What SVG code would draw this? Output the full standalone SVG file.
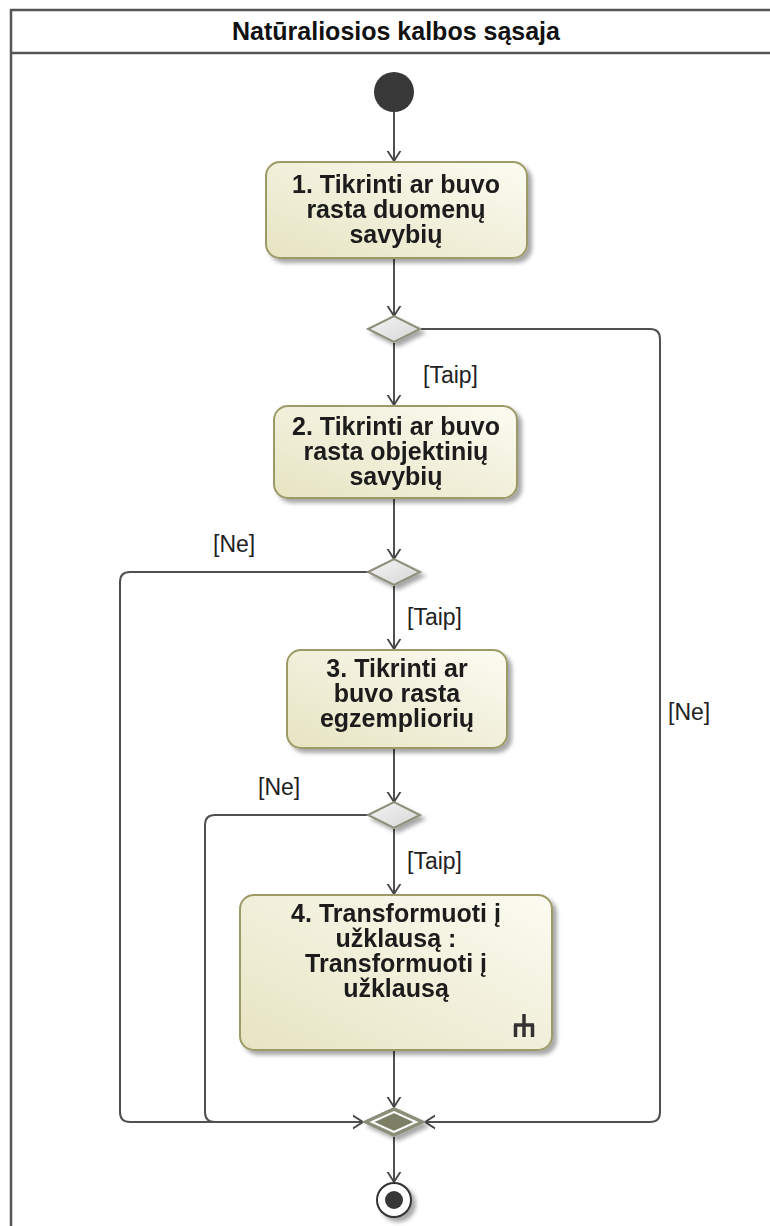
<svg xmlns="http://www.w3.org/2000/svg" width="770" height="1226" viewBox="0 0 770 1226">
  <defs>
    <linearGradient id="actFill" x1="0" y1="1" x2="1" y2="0">
      <stop offset="0" stop-color="#e7e4c2"/>
      <stop offset="1" stop-color="#fbfbf2"/>
    </linearGradient>
    <linearGradient id="decFill" x1="0" y1="0" x2="1" y2="1">
      <stop offset="0" stop-color="#f4f4f4"/>
      <stop offset="1" stop-color="#d6d6d6"/>
    </linearGradient>
    <filter id="shadow" x="-20%" y="-20%" width="150%" height="150%">
      <feGaussianBlur in="SourceAlpha" stdDeviation="2"/>
      <feOffset dx="4" dy="4" result="b"/>
      <feComponentTransfer><feFuncA type="linear" slope="0.35"/></feComponentTransfer>
      <feMerge><feMergeNode/><feMergeNode in="SourceGraphic"/></feMerge>
    </filter>
    <marker id="open" viewBox="0 0 20 20" refX="10" refY="10" markerWidth="20" markerHeight="20" markerUnits="userSpaceOnUse" orient="auto">
      <path d="M-5 0.5 L10 10 L-5 19.5" fill="none" stroke="#444" stroke-width="1.8"/>
    </marker>
  </defs>
  <style>
    .frame { fill: none; stroke: #555; stroke-width: 2.5; }
    .title { font-family: "Liberation Sans", Arial, sans-serif; font-size: 25px; font-weight: bold; fill: #111; text-anchor: middle; }
    .act rect { fill: url(#actFill); stroke: #9c9a66; stroke-width: 2; }
    .act text { font-family: "Liberation Sans", Arial, sans-serif; font-size: 25px; font-weight: bold; fill: #1a1a1a; text-anchor: middle; }
    .dec path { fill: url(#decFill); stroke: #8d8d7a; stroke-width: 2; }
    .edge { fill: none; stroke: #505050; stroke-width: 2; }
    .lbl { font-family: "Liberation Sans", Arial, sans-serif; font-size: 23px; fill: #222; }
  </style>

  <rect width="770" height="1226" fill="#ffffff"/>

  <!-- frame with header -->
  <g id="frame">
    <path class="frame" d="M11 1230 V10 H775"/>
    <path class="frame" d="M11 53 H775"/>
    <text class="title" x="396" y="40">Natūraliosios kalbos sąsaja</text>
  </g>

  <!-- connectors -->
  <g id="connectors">
    <path class="edge" d="M394 112 V161" marker-end="url(#open)"/>
    <path class="edge" d="M394 259 V316" marker-end="url(#open)"/>
    <path class="edge" d="M394 343 V405" marker-end="url(#open)"/>
    <path class="edge" d="M421 329 H650 Q660 329 660 339 V1112 Q660 1122 650 1122 H425" marker-end="url(#open)"/>
    <path class="edge" d="M394 499 V559" marker-end="url(#open)"/>
    <path class="edge" d="M394 586 V649" marker-end="url(#open)"/>
    <path class="edge" d="M368 572 H130 Q120 572 120 582 V1112 Q120 1122 130 1122 H363" marker-end="url(#open)"/>
    <path class="edge" d="M394 749 V802" marker-end="url(#open)"/>
    <path class="edge" d="M394 829 V894" marker-end="url(#open)"/>
    <path class="edge" d="M368 815 H215 Q205 815 205 825 V1112 Q205 1122 215 1122"/>
    <path class="edge" d="M394 1051 V1107" marker-end="url(#open)"/>
    <path class="edge" d="M394 1137 V1182" marker-end="url(#open)"/>

    <text class="lbl" x="423" y="383">[Taip]</text>
    <text class="lbl" x="668" y="720">[Ne]</text>
    <text class="lbl" x="213" y="552">[Ne]</text>
    <text class="lbl" x="407" y="625">[Taip]</text>
    <text class="lbl" x="258" y="795">[Ne]</text>
    <text class="lbl" x="407" y="869">[Taip]</text>
  </g>

  <!-- initial node -->
  <g id="initial">
    <circle cx="394" cy="92" r="20" fill="#383838"/>
  </g>

  <!-- actions -->
  <g id="a1" class="act" filter="url(#shadow)">
    <rect x="266" y="162" width="261" height="96" rx="14"/>
    <text x="396" y="193">1. Tikrinti ar buvo</text>
    <text x="396" y="218">rasta duomenų</text>
    <text x="396" y="243">savybių</text>
  </g>

  <g id="a2" class="act" filter="url(#shadow)">
    <rect x="274" y="406" width="243" height="92" rx="14"/>
    <text x="396" y="435">2. Tikrinti ar buvo</text>
    <text x="396" y="460">rasta objektinių</text>
    <text x="396" y="485">savybių</text>
  </g>

  <g id="a3" class="act" filter="url(#shadow)">
    <rect x="287" y="650" width="220" height="98" rx="14"/>
    <text x="397" y="677">3. Tikrinti ar</text>
    <text x="397" y="702">buvo rasta</text>
    <text x="397" y="727">egzempliorių</text>
  </g>

  <g id="a4" class="act" filter="url(#shadow)">
    <rect x="240" y="895" width="312" height="155" rx="14"/>
    <text x="396" y="922">4. Transformuoti į</text>
    <text x="396" y="947">užklausą :</text>
    <text x="396" y="972">Transformuoti į</text>
    <text x="396" y="997">užklausą</text>
    <!-- call behavior rake -->
    <path d="M524 1014 V1025 M514 1025 H534 M515.5 1025 V1037 M524 1025 V1037 M532.5 1025 V1037" fill="none" stroke="#333" stroke-width="3.5"/>
  </g>

  <!-- decisions -->
  <g id="d1" class="dec" filter="url(#shadow)">
    <path d="M368 329 L394 316 L420 329 L394 342 Z"/>
  </g>
  <g id="d2" class="dec" filter="url(#shadow)">
    <path d="M368 572 L394 559 L420 572 L394 585 Z"/>
  </g>
  <g id="d3" class="dec" filter="url(#shadow)">
    <path d="M368 815 L394 802 L420 815 L394 828 Z"/>
  </g>

  <!-- merge -->
  <g id="merge" filter="url(#shadow)">
    <path d="M364 1122 L394 1108 L424 1122 L394 1136 Z" fill="#8c8f78" stroke="#8d8d7a" stroke-width="2"/>
    <path d="M372 1122 L394 1112 L416 1122 L394 1132 Z" fill="#7b7e66" stroke="#ffffff" stroke-width="2"/>
  </g>

  <!-- final node -->
  <g id="final" filter="url(#shadow)">
    <circle cx="394" cy="1200" r="17" fill="#ffffff" stroke="#333" stroke-width="2"/>
    <circle cx="394" cy="1200" r="9" fill="#383838"/>
  </g>
</svg>
